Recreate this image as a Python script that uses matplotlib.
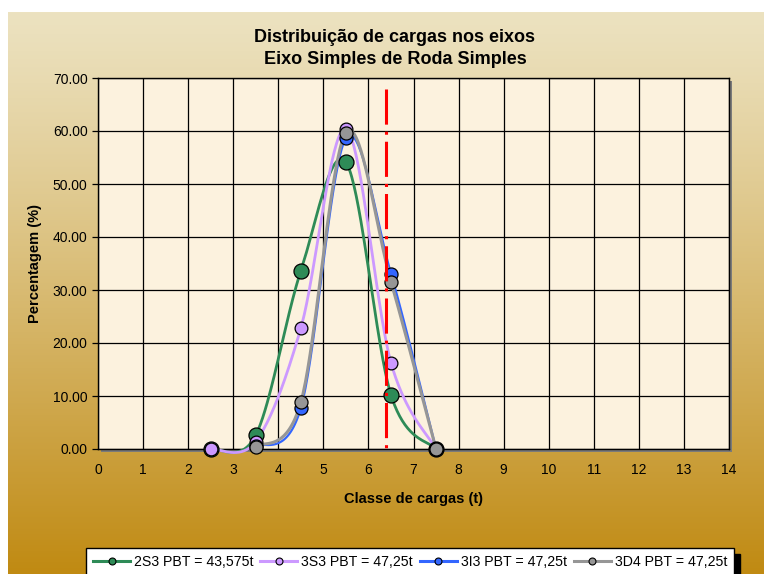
import numpy as np
import matplotlib
matplotlib.use("Agg")
import matplotlib.pyplot as plt
from matplotlib.lines import Line2D
from matplotlib.patches import Rectangle

plt.rcParams['font.family'] = ['Liberation Sans', 'DejaVu Sans']

# classes de carga (t) e percentagens por veiculo
classes = [2.5, 3.5, 4.5, 5.5, 6.5, 7.5]
p_2s3 = [0.0, 2.6, 33.6, 54.1, 10.2, 0.0]
p_3s3 = [0.0, 1.4, 22.8, 60.4, 16.3, 0.0]
p_3i3 = [np.nan, 0.5, 7.7, 58.6, 33.1, 0.0]
p_3d4 = [np.nan, 0.4, 8.8, 59.7, 31.6, 0.0]
rotulos = ["2S3 PBT = 43,575t", "3S3 PBT = 47,25t", "3I3 PBT = 47,25t", "3D4 PBT = 47,25t"]
limite_x = 6.4
limite_topo = 68.0

cores_linha = ["#2E8B57", "#CC99FF", "#3366FF", "#969696"]
larguras = [2.0, 2.0, 1.6, 2.2]
tam_marcador = [10.8, 9.2, 9.4, 9.4]


def suavizar(xs, ys, n=40):
    # curva suavizada estilo Excel (Bezier com tangentes Catmull-Rom)
    xs = np.asarray(xs, float)
    ys = np.asarray(ys, float)
    ok = ~np.isnan(ys)
    pts = np.column_stack([xs[ok], ys[ok]])
    out = [pts[0]]
    t = np.linspace(0, 1, n)[1:, None]
    for i in range(len(pts) - 1):
        p0 = pts[max(i - 1, 0)]
        p1 = pts[i]
        p2 = pts[i + 1]
        p3 = pts[min(i + 2, len(pts) - 1)]
        c1 = p1 + (p2 - p0) / 6
        c2 = p2 - (p3 - p1) / 6
        seg = (1 - t) ** 3 * p1 + 3 * (1 - t) ** 2 * t * c1 + 3 * (1 - t) * t ** 2 * c2 + t ** 3 * p2
        out.extend(seg)
    out = np.array(out)
    return out[:, 0], out[:, 1]


W, H = 764, 574
fig = plt.figure(figsize=(W / 100, H / 100), dpi=100)
fig.patch.set_facecolor("white")

# fundo em degrade
bg = fig.add_axes([8 / W, 0, (W - 8) / W, (H - 12) / H])
bg.set_zorder(-5)
topo = np.array([236, 226, 192]) / 255
base = np.array([192, 138, 18]) / 255
f = np.linspace(0, 1, 300) ** 1.15
grad = topo[None, :] * (1 - f[:, None]) + base[None, :] * f[:, None]
bg.imshow(grad[:, None, :], aspect="auto", extent=[0, 1, 0, 1])
bg.axis("off")

x0, x1, y0, y1 = 98, 729, 449, 78
pos = [x0 / W, 1 - y0 / H, (x1 - x0) / W, (y0 - y1) / H]

# sombra da area do grafico
fig.patches.append(Rectangle((pos[0] + 3 / W, pos[1] - 3 / H), pos[2], pos[3],
                             transform=fig.transFigure, facecolor="#7a7a7a",
                             edgecolor="none", zorder=-2))

ax = fig.add_axes(pos)
ax.set_facecolor("#FCF2DE")

for ys, cor, lw, ms in zip([p_2s3, p_3s3, p_3i3, p_3d4], cores_linha, larguras, tam_marcador):
    sx, sy = suavizar(classes, ys)
    ax.plot(sx, sy, color=cor, lw=lw, zorder=3, clip_on=False)
    ax.plot(classes, ys, ls="none", marker="o", ms=ms, mfc=cor, mec="black",
            mew=0.9, zorder=4, clip_on=False)

# linha limite traco-ponto (padrao em multiplos da espessura)
lw_lim = 2.2
ax.plot([limite_x, limite_x], [limite_topo, 0], color="#FF0000", lw=lw_lim,
        linestyle=(0, (11.5, 2.3, 1.0, 2.3)), zorder=5)

ax.set_xlim(0, 14)
ax.set_ylim(0, 70)
ax.set_xticks(range(0, 15))
ax.set_yticks(np.arange(0, 71, 10))
ax.set_yticklabels([f"{v:.2f}" for v in np.arange(0, 71, 10)])
ax.grid(True, color="black", lw=0.9)
ax.set_axisbelow(True)
for s in ax.spines.values():
    s.set_color("black")
    s.set_linewidth(1.0)
ax.tick_params(axis="x", length=0, pad=10, labelsize=10)
ax.tick_params(axis="y", length=4.5, width=0.9, pad=3, labelsize=10)

ax.set_xlabel("Classe de cargas (t)", fontsize=10.5, fontweight="bold", labelpad=11)
ax.set_ylabel("Percentagem (%)", fontsize=10.5, fontweight="bold", labelpad=8)

fig.text(395 / W, 1 - 38 / H, "Distribuição de cargas nos eixos", ha="center",
         va="center", fontsize=13, fontweight="bold")
fig.text(395 / W, 1 - 60 / H, "Eixo Simples de Roda Simples", ha="center",
         va="center", fontsize=13, fontweight="bold")

handles = [Line2D([], [], color=c, lw=2.2, marker="o", ms=5, mfc=c, mec="black", mew=0.8)
           for c in cores_linha]
leg = fig.legend(handles, rotulos, loc="upper left", bbox_to_anchor=(86 / W, 1 - 548 / H),
                 ncol=4, fontsize=10.2, frameon=True, fancybox=False, framealpha=1,
                 edgecolor="black", facecolor="white", handlelength=2.6,
                 handletextpad=0.28, columnspacing=0.5, borderpad=0.5,
                 borderaxespad=0,
                 shadow={"color": "black", "alpha": 1.0, "ox": 4, "oy": -4})
leg.get_frame().set_linewidth(1.0)

fig.savefig("out.png", dpi=100)
